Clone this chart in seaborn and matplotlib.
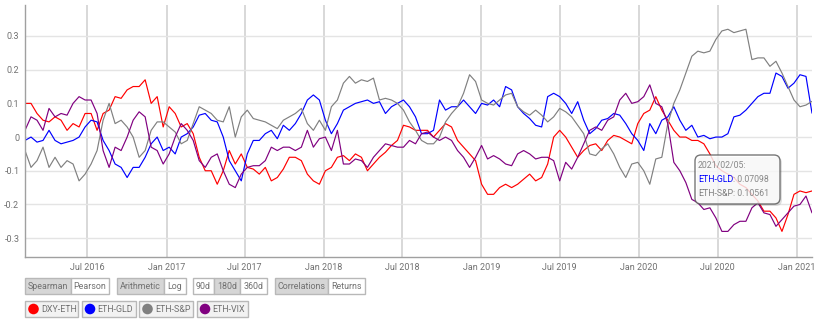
import matplotlib
matplotlib.use("Agg")
import matplotlib.pyplot as plt
import matplotlib.dates as mdates
import matplotlib.transforms as mtransforms
from matplotlib.patches import FancyBboxPatch, Rectangle, Circle
from matplotlib.ticker import FixedLocator, FuncFormatter
import numpy as np
import pandas as pd
import seaborn as sns

# ---------------- data ----------------
start_date = "2016-02-08"
end_date = "2021-02-05"

series_names = ["DXY-ETH", "ETH-GLD", "ETH-S&P", "ETH-VIX"]
series_colors = ["#ff0000", "#0000ff", "#808080", "#800080"]

dxy_eth = [
    0.10, 0.10, 0.07, 0.05, 0.045, 0.06, 0.05, 0.02, 0.04, 0.03,
    0.07, 0.07, 0.02, 0.07, 0.08, 0.12, 0.115, 0.14, 0.15, 0.15,
    0.17, 0.10, 0.12, 0.03, 0.09, 0.07, 0.03, 0.04, 0.01, -0.06,
    -0.10, -0.10, -0.14, -0.10, -0.04, -0.08, -0.05, -0.09, -0.095, -0.11,
    -0.09, -0.13, -0.12, -0.095, -0.06, -0.06, -0.07, -0.11, -0.13, -0.14,
    -0.10, -0.09, -0.06, -0.055, -0.07, -0.05, -0.06, -0.10, -0.08, -0.06,
    -0.045, -0.025, -0.01, 0.035, 0.03, 0.02, 0.02, 0.02, 0.0, 0.02,
    0.04, 0.03, -0.01, -0.03, -0.05, -0.07, -0.14, -0.17, -0.17, -0.15,
    -0.14, -0.15, -0.14, -0.125, -0.11, -0.13, -0.12, -0.08, 0.0, 0.02,
    0.0, -0.03, -0.06, -0.04, -0.025, -0.02, -0.04, -0.01, 0.005, 0.0,
    -0.01, -0.02, 0.04, 0.07, 0.08, 0.12, 0.08, 0.05, 0.02, 0.0,
    0.0, -0.01, -0.01, -0.02, -0.05, -0.085, -0.10, -0.11, -0.12, -0.14,
    -0.15, -0.17, -0.19, -0.22, -0.22, -0.24, -0.28, -0.23, -0.17, -0.16,
    -0.165, -0.16,
]

eth_gld = [
    -0.01, 0.0, -0.015, -0.01, 0.02, -0.01, -0.02, -0.015, -0.01, 0.0,
    0.03, 0.05, 0.045, -0.01, -0.04, -0.08, -0.09, -0.12, -0.09, -0.09,
    -0.06, -0.02, 0.0, -0.04, -0.03, -0.05, 0.0, 0.01, 0.03, 0.065,
    0.07, 0.05, 0.045, 0.0, -0.07, -0.10, -0.13, -0.05, -0.01, -0.01,
    0.01, 0.02, -0.005, 0.035, 0.02, 0.04, 0.07, 0.11, 0.125, 0.11,
    0.05, 0.01, 0.04, 0.08, 0.09, 0.10, 0.105, 0.11, 0.10, 0.105,
    0.07, 0.09, 0.10, 0.11, 0.09, 0.06, 0.01, 0.01, 0.02, 0.11,
    0.08, 0.09, 0.09, 0.11, 0.09, 0.07, 0.10, 0.095, 0.11, 0.09,
    0.15, 0.14, 0.09, 0.07, 0.055, 0.035, 0.03, 0.12, 0.13, 0.12,
    0.10, 0.07, 0.105, 0.05, 0.01, 0.025, 0.05, 0.055, 0.07, 0.065,
    0.04, 0.01, -0.01, -0.04, 0.04, 0.01, 0.05, 0.06, 0.09, 0.05,
    0.02, 0.035, 0.0, 0.005, -0.005, 0.0, 0.0, 0.01, 0.06, 0.065,
    0.08, 0.10, 0.12, 0.13, 0.13, 0.19, 0.18, 0.145, 0.16, 0.185,
    0.18, 0.071,
]

eth_sp = [
    -0.04, -0.09, -0.07, -0.03, -0.09, -0.06, -0.09, -0.07, -0.08, -0.13,
    -0.11, -0.08, -0.04, 0.05, 0.10, 0.04, 0.05, 0.03, 0.0, -0.06,
    -0.04, 0.02, 0.045, 0.045, 0.03, 0.015, -0.02, -0.01, 0.04, 0.09,
    0.08, 0.07, 0.05, 0.045, 0.09, 0.0, 0.06, 0.08, 0.055, 0.05,
    0.045, 0.035, 0.025, 0.05, 0.06, 0.07, 0.085, 0.04, 0.02, 0.05,
    0.02, 0.09, 0.11, 0.16, 0.18, 0.16, 0.17, 0.165, 0.175, 0.11,
    0.115, 0.11, 0.10, 0.08, 0.045, 0.02, -0.01, -0.02, -0.02, 0.0,
    0.045, 0.07, 0.09, 0.13, 0.185, 0.165, 0.11, 0.10, 0.095, 0.11,
    0.125, 0.13, 0.09, 0.075, 0.065, 0.08, 0.065, 0.045, 0.06, 0.085,
    0.075, 0.06, 0.035, 0.01, -0.05, -0.055, -0.035, -0.02, -0.05, -0.09,
    -0.12, -0.08, -0.075, -0.10, -0.14, -0.065, -0.06, 0.04, 0.10, 0.14,
    0.19, 0.24, 0.255, 0.25, 0.255, 0.29, 0.315, 0.32, 0.31, 0.315,
    0.32, 0.23, 0.235, 0.235, 0.21, 0.225, 0.19, 0.15, 0.11, 0.09,
    0.095, 0.106,
]

eth_vix = [
    0.02, 0.06, 0.05, 0.02, 0.085, 0.06, 0.07, 0.065, 0.10, 0.12,
    0.11, 0.11, 0.07, -0.04, -0.09, -0.03, -0.04, 0.0, 0.05, 0.075,
    0.06, -0.03, -0.04, -0.08, -0.05, 0.0, 0.04, 0.02, -0.01, -0.07,
    -0.09, -0.06, -0.05, -0.10, -0.14, -0.15, -0.11, -0.09, -0.085, -0.085,
    -0.07, -0.03, -0.04, -0.03, -0.03, -0.04, -0.03, 0.02, -0.03, -0.005,
    0.0, -0.04, 0.02, -0.08, -0.08, -0.065, -0.07, -0.09, -0.06, -0.04,
    -0.02, -0.025, -0.03, -0.03, -0.01, -0.02, 0.01, 0.015, 0.0, -0.01,
    0.0, -0.01, -0.04, -0.06, -0.09, -0.06, -0.025, -0.065, -0.055, -0.065,
    -0.08, -0.085, -0.05, -0.04, -0.05, -0.065, -0.06, -0.06, -0.07, -0.13,
    -0.075, -0.095, -0.06, -0.02, 0.02, 0.03, 0.02, 0.05, 0.06, 0.11,
    0.13, 0.10, 0.105, 0.12, 0.155, 0.10, 0.09, 0.04, -0.075, -0.10,
    -0.135, -0.185, -0.195, -0.215, -0.21, -0.24, -0.28, -0.28, -0.26, -0.25,
    -0.25, -0.21, -0.195, -0.225, -0.23, -0.265, -0.245, -0.225, -0.205, -0.2,
    -0.175, -0.225,
]

y_ticks = [0.3, 0.2, 0.1, 0.0, -0.1, -0.2, -0.3]
x_tick_dates = ["2016-07-01", "2017-01-01", "2017-07-01", "2018-01-01", "2018-07-01",
                "2019-01-01", "2019-07-01", "2020-01-01", "2020-07-01", "2021-01-01"]

button_rows = [
    [("Spearman", True), ("Pearson", False)],
    [("Arithmetic", True), ("Log", False)],
    [("90d", False), ("180d", True), ("360d", False)],
    [("Correlations", True), ("Returns", False)],
]

tooltip_date = "2021/02/05:"
tooltip_items = [("ETH-GLD", "0.07098", "#0000ff"), ("ETH-S&P", "0.10561", "#808080")]

# ---------------- build frame ----------------
n = len(dxy_eth)
dates = pd.date_range(start_date, end_date, periods=n)
frames = []
for name, vals in zip(series_names, [dxy_eth, eth_gld, eth_sp, eth_vix]):
    frames.append(pd.DataFrame({"date": dates, "value": vals, "series": name}))
df = pd.concat(frames, ignore_index=True)

# ---------------- figure ----------------
sns.set_theme(style="white")
plt.rcParams["font.family"] = ["Roboto", "DejaVu Sans"]

W, H = 825, 331
fig = plt.figure(figsize=(W / 100, H / 100), dpi=100)
fig.patch.set_facecolor("white")

ax_l, ax_r, ax_t, ax_b = 25, 812, 5, 257
ax = fig.add_axes([ax_l / W, 1 - ax_b / H, (ax_r - ax_l) / W, (ax_b - ax_t) / H])

sns.lineplot(data=df, x="date", y="value", hue="series", hue_order=series_names,
             palette=series_colors, linewidth=0.85, ax=ax, legend=False)

ax.set_xlim(pd.Timestamp("2016-02-08"), pd.Timestamp("2021-02-05"))
ax.set_ylim(-0.356, 0.392)
ax.set_xlabel("")
ax.set_ylabel("")

ax.yaxis.set_major_locator(FixedLocator(y_ticks))
ax.yaxis.set_major_formatter(FuncFormatter(lambda v, p: "0" if abs(v) < 1e-9 else f"{v:.1f}"))
ax.xaxis.set_major_locator(FixedLocator([mdates.date2num(pd.Timestamp(d)) for d in x_tick_dates]))
ax.xaxis.set_major_formatter(mdates.DateFormatter("%b %Y"))

ax.set_axisbelow(True)
ax.yaxis.grid(True, color="#e4e4e4", linewidth=1.0)
ax.xaxis.grid(True, color="#d2d2d2", linewidth=1.2)
for s in ["top", "right"]:
    ax.spines[s].set_visible(False)
for s in ["left", "bottom"]:
    ax.spines[s].set_color("#a0a0a0")
    ax.spines[s].set_linewidth(1.0)
ax.tick_params(axis="both", length=0, labelsize=6.5, colors="#707070")
ax.tick_params(axis="y", pad=4)
ax.tick_params(axis="x", pad=4)

# pixel transform (origin top-left)
pix = mtransforms.Affine2D().scale(1, -1).translate(0, H)

# ---------------- tooltip ----------------
tx0, ty0, tx1, ty1 = 695, 155, 780, 204
shadow = FancyBboxPatch((tx0 + 2, ty0 + 2), tx1 - tx0, ty1 - ty0,
                        boxstyle="round,pad=0,rounding_size=6", transform=pix,
                        facecolor="#000000", alpha=0.12, edgecolor="none", zorder=10)
box = FancyBboxPatch((tx0, ty0), tx1 - tx0, ty1 - ty0,
                     boxstyle="round,pad=0,rounding_size=6", transform=pix,
                     facecolor="white", alpha=0.8, edgecolor="#555555", linewidth=1.0, zorder=11)
fig.patches.extend([shadow, box])
fig.text(698, 166, tooltip_date, transform=pix, fontsize=6.3, color="#888888",
         va="center", ha="left", zorder=12)
fig.canvas.draw()
for k, (nm, val, col) in enumerate(tooltip_items):
    yy = 180 + 14 * k
    t = fig.text(698, yy, nm, transform=pix, fontsize=6.3, color=col, va="center", ha="left", zorder=12)
    bb = t.get_window_extent(renderer=fig.canvas.get_renderer())
    fig.text(698 + bb.width, yy, ": " + val, transform=pix, fontsize=6.3, color="#888888",
             va="center", ha="left", zorder=12)

# ---------------- buttons ----------------
btn_font = 6.4
btn_widths = [[46, 38], [47, 22], [21, 26, 27], [53, 37]]
group_gap = 7.5
x = 25
row_y0, row_y1 = 278, 294
for group, widths in zip(button_rows, btn_widths):
    for (label, sel), w in zip(group, widths):
        r = Rectangle((x, row_y0), w, row_y1 - row_y0, transform=pix,
                      facecolor="#d6d6d6" if sel else "white", edgecolor="#b8b8b8",
                      linewidth=1.0)
        fig.patches.append(r)
        fig.text(x + w / 2, (row_y0 + row_y1) / 2 + 0.5, label, transform=pix,
                 fontsize=btn_font, color="#707070", ha="center", va="center")
        x += w
    x += group_gap

leg_widths = [53, 54, 54, 51]
leg_gap = 3.5
x = 25
leg_y0, leg_y1 = 301, 317
for label, col, w in zip(series_names, series_colors, leg_widths):
    r = Rectangle((x, leg_y0), w, leg_y1 - leg_y0, transform=pix,
                  facecolor="#f2f2f2", edgecolor="#b8b8b8", linewidth=1.0)
    fig.patches.append(r)
    c = Circle((x + 8.5, (leg_y0 + leg_y1) / 2), 5.3, transform=pix,
               facecolor=col, edgecolor="none")
    fig.patches.append(c)
    fig.text(x + 16, (leg_y0 + leg_y1) / 2 + 0.5, label, transform=pix,
             fontsize=btn_font, color="#707070", ha="left", va="center")
    x += w + leg_gap

fig.savefig("out.png", dpi=100, facecolor="white")
